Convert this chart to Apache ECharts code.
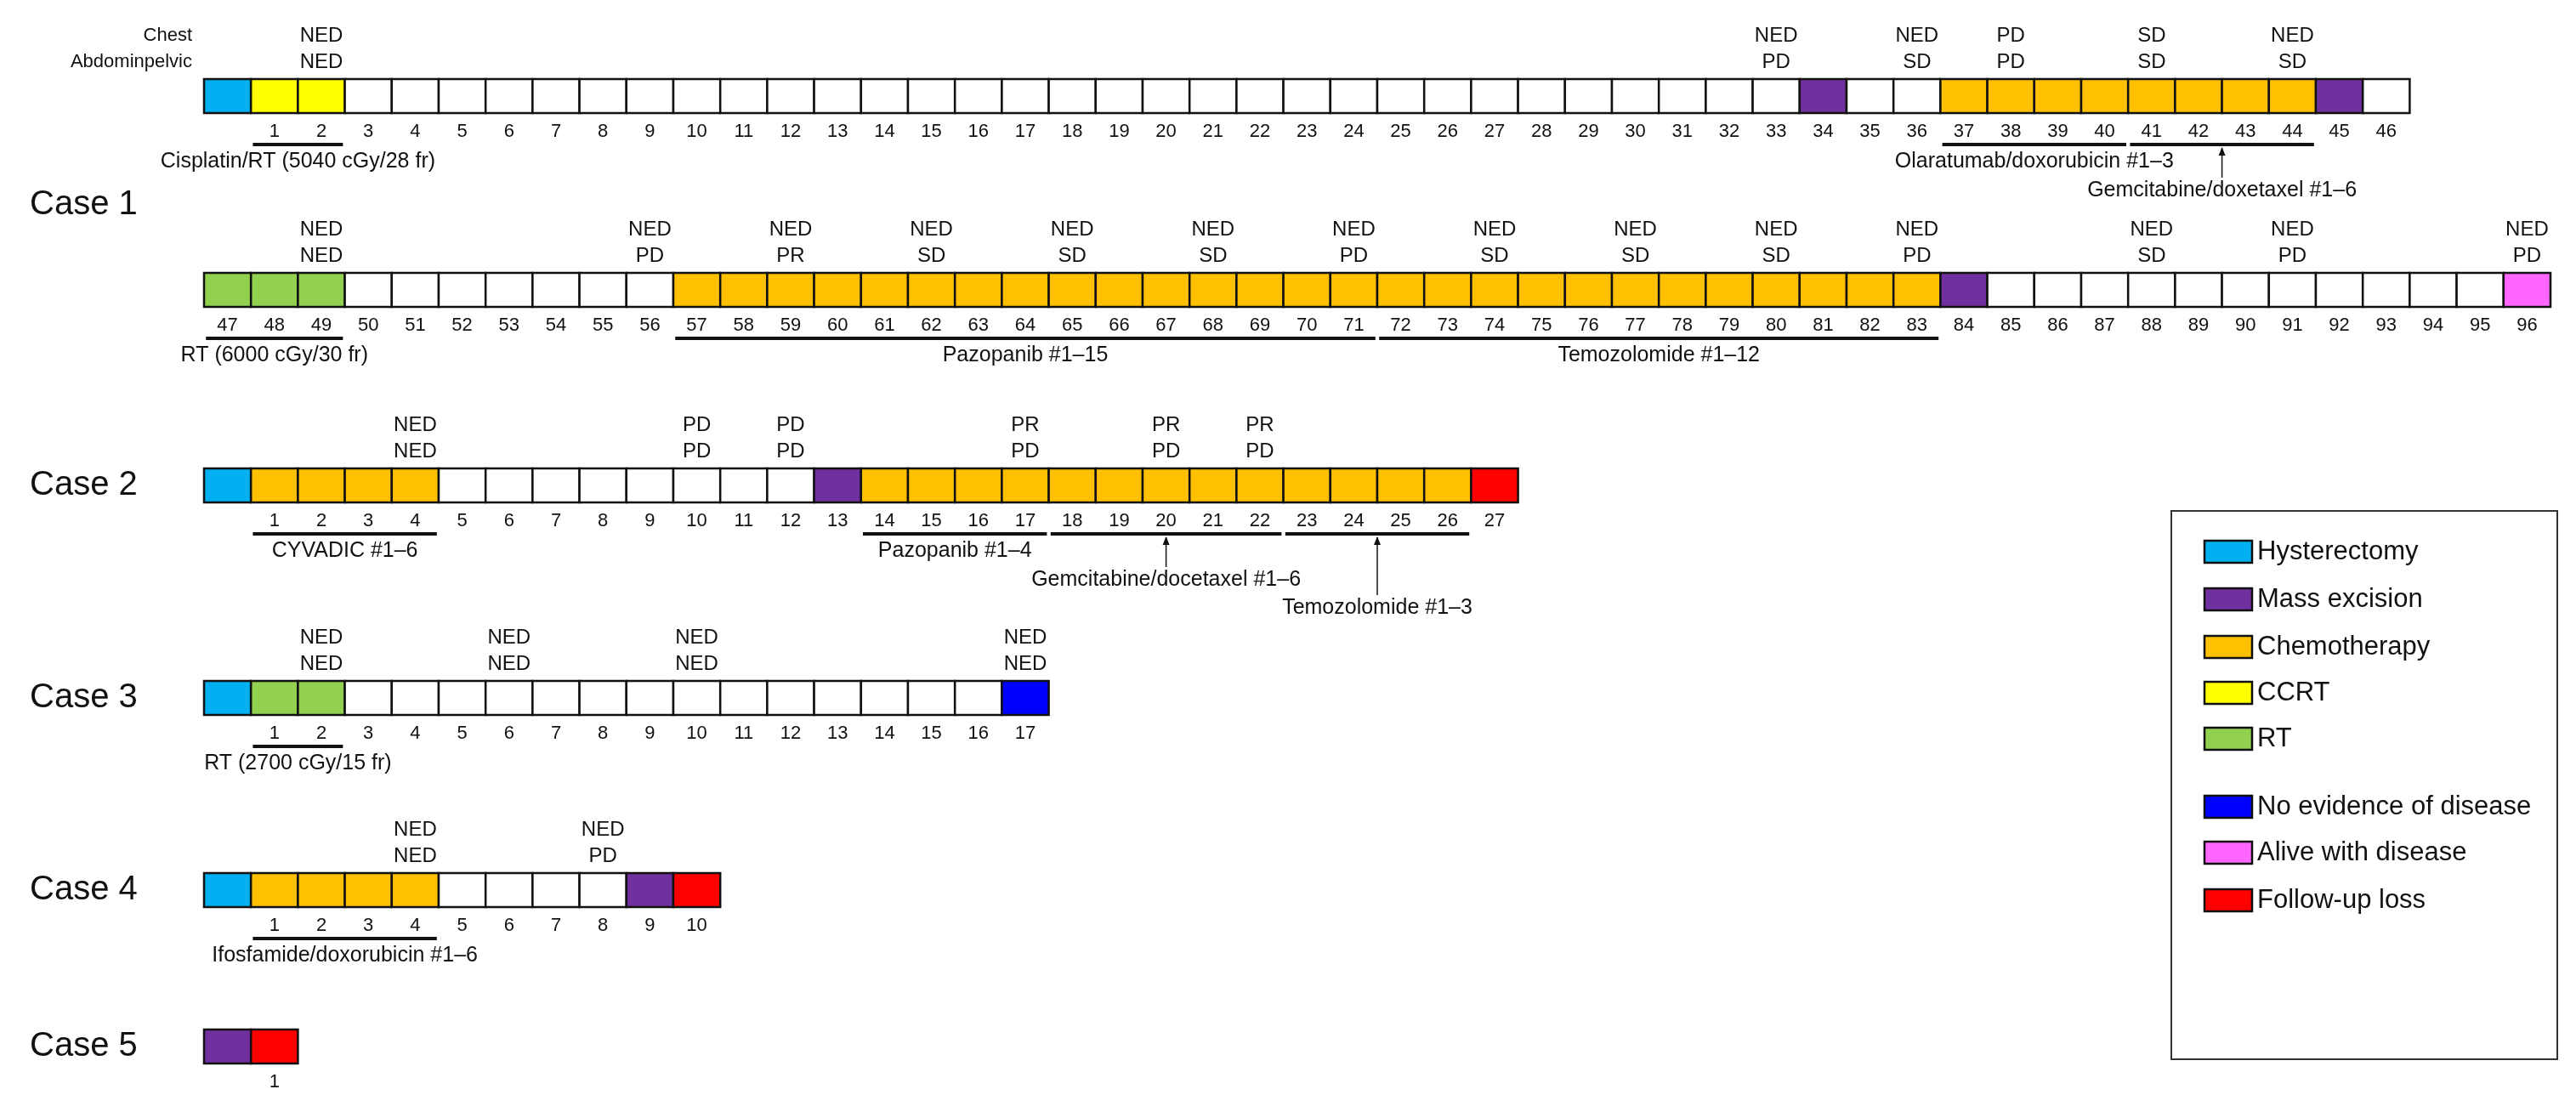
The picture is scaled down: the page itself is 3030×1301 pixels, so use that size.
<!DOCTYPE html>
<html>
<head>
<meta charset="utf-8">
<script src="https://cdn.jsdelivr.net/npm/echarts@6/dist/echarts.min.js"></script>
<style>html,body{margin:0;padding:0;background:#fff}#main{width:3030px;height:1301px}</style>
</head>
<body>
<div id="main"></div>
<script>
// cell types per track: H hysterectomy, M mass excision, X chemo, C CCRT, R RT, N NED, A AWD, F FU loss, . none
var trackCells = [
  'HCC' + '.'.repeat(31) + 'M..' + 'XXXXXXXX' + 'M.',
  'RRR' + '.'.repeat(7) + 'X'.repeat(27) + 'M' + '.'.repeat(11) + 'A',
  'HXXXX' + '.'.repeat(8) + 'M' + 'X'.repeat(13) + 'F',
  'HRR' + '.'.repeat(14) + 'N',
  'HXXXX....MF',
  'MF'
];
var cycleStart = [0, 47, 0, 0, 0, 0];
var skipFirst = [true, false, true, true, true, true];
var caseNames = ['Case 1', 'Case 2', 'Case 3', 'Case 4', 'Case 5'];
var caseTrack = [0.5, 2, 3, 4, 5];

// response labels: [track, col, chest, abdominopelvic]
var responses = [
  [0,2,'NED','NED'],[0,33,'NED','PD'],[0,36,'NED','SD'],[0,38,'PD','PD'],[0,41,'SD','SD'],[0,44,'NED','SD'],
  [1,2,'NED','NED'],[1,9,'NED','PD'],[1,12,'NED','PR'],[1,15,'NED','SD'],[1,18,'NED','SD'],[1,21,'NED','SD'],
  [1,24,'NED','PD'],[1,27,'NED','SD'],[1,30,'NED','SD'],[1,33,'NED','SD'],[1,36,'NED','PD'],[1,41,'NED','SD'],
  [1,44,'NED','PD'],[1,49,'NED','PD'],
  [2,4,'NED','NED'],[2,10,'PD','PD'],[2,12,'PD','PD'],[2,17,'PR','PD'],[2,20,'PR','PD'],[2,22,'PR','PD'],
  [3,2,'NED','NED'],[3,6,'NED','NED'],[3,10,'NED','NED'],[3,17,'NED','NED'],
  [4,4,'NED','NED'],[4,8,'NED','PD']
];

// treatments: [track, firstCol, lastCol, text, arrowLevel (0 = text under bar)]
var treatments = [
  [0,1,2,'Cisplatin/RT (5040 cGy/28 fr)',0],
  [0,37,40,'Olaratumab/doxorubicin #1\u20133',0],
  [0,41,44,'Gemcitabine/doxetaxel #1\u20136',1],
  [1,0,2,'RT (6000 cGy/30 fr)',0],
  [1,10,24,'Pazopanib #1\u201315',0],
  [1,25,36,'Temozolomide #1\u201312',0],
  [2,1,4,'CYVADIC #1\u20136',0],
  [2,14,17,'Pazopanib #1\u20134',0],
  [2,18,22,'Gemcitabine/docetaxel #1\u20136',1],
  [2,23,26,'Temozolomide #1\u20133',2],
  [3,1,2,'RT (2700 cGy/15 fr)',0],
  [4,1,4,'Ifosfamide/doxorubicin #1\u20136',0]
];

var legendKeys = ['H','M','X','C','R','N','A','F'];
var legendNames = ['Hysterectomy','Mass excision','Chemotherapy','CCRT','RT','No evidence of disease','Alive with disease','Follow-up loss'];
var colors = {H:'#00B0F0',M:'#7030A0',X:'#FFC000',C:'#FFFF00',R:'#92D050',N:'#0000FF',A:'#FF66FF',F:'#FF0000','.':'#ffffff'};

// layout
var rowY = [113, 341, 571, 821, 1047, 1231];
var boxH = 40;
var narrow = '"Liberation Sans Narrow","Liberation Sans",Arial,sans-serif';
var wide = '"Liberation Sans",Arial,sans-serif';

var cellData = [], numData = [];
trackCells.forEach(function (s, t) {
  for (var c = 0; c < s.length; c++) {
    cellData.push([c, t, s[c]]);
    if (!(skipFirst[t] && c === 0)) {
      numData.push([c, t, String(cycleStart[t] + c)]);
    }
  }
});

var chart = echarts.init(document.getElementById('main'));
var legendGraphics = [{
  type: 'rect', shape: {x: 2554, y: 601, width: 454, height: 645},
  style: {fill: '#fff', stroke: '#333', lineWidth: 2}
}];
var legY = [649, 705, 761, 815, 869, 949, 1003, 1059];
legendKeys.forEach(function (k, i) {
  legendGraphics.push({type: 'rect', shape: {x: 2593, y: legY[i] - 13, width: 56, height: 26},
    style: {fill: colors[k], stroke: '#111', lineWidth: 2.5}});
  legendGraphics.push({type: 'text', x: 2655, y: legY[i],
    style: {text: legendNames[i], font: '31px ' + wide, fill: '#111', verticalAlign: 'middle'}});
});
legendGraphics.push({type: 'text', x: 226, y: 42, style: {text: 'Chest', font: '22px ' + narrow, fill: '#111', align: 'right', verticalAlign: 'middle'}});
legendGraphics.push({type: 'text', x: 226, y: 73, style: {text: 'Abdominpelvic', font: '22px ' + narrow, fill: '#111', align: 'right', verticalAlign: 'middle'}});

chart.setOption({
  animation: false,
  grid: {left: 0, right: 0, top: 0, bottom: 0},
  xAxis: {type: 'value', min: -240 / 55.2, max: (3030 - 240) / 55.2, show: false},
  yAxis: {type: 'value', min: 0, max: 1301, inverse: true, show: false},
  graphic: legendGraphics,
  series: [
    {
      type: 'custom', data: cellData,
      renderItem: function (params, api) {
        var c = api.value(0), t = api.value(1), k = cellData[params.dataIndex][2];
        var p = api.coord([c, rowY[t]]);
        var w = api.size([1, 0])[0];
        return {type: 'rect', shape: {x: p[0], y: p[1] - boxH / 2, width: w, height: boxH},
          style: {fill: colors[k], stroke: '#111', lineWidth: 2.5}};
      }
    },
    {
      type: 'custom', data: numData,
      renderItem: function (params, api) {
        var c = api.value(0), t = api.value(1);
        var p = api.coord([c + 0.5, rowY[t] + 42]);
        return {type: 'text', x: p[0], y: p[1],
          style: {text: numData[params.dataIndex][2], font: '22px ' + narrow, fill: '#111', align: 'center', verticalAlign: 'middle'}};
      }
    },
    {
      type: 'custom', data: responses.map(function (r) { return [r[1], r[0]]; }),
      renderItem: function (params, api) {
        var r = responses[params.dataIndex];
        var p1 = api.coord([r[1] + 0.5, rowY[r[0]] - 71]);
        var p2 = api.coord([r[1] + 0.5, rowY[r[0]] - 40]);
        var st = {font: '24px ' + narrow, fill: '#111', align: 'center', verticalAlign: 'middle'};
        return {type: 'group', children: [
          {type: 'text', x: p1[0], y: p1[1], style: Object.assign({text: r[2]}, st)},
          {type: 'text', x: p2[0], y: p2[1], style: Object.assign({text: r[3]}, st)}
        ]};
      }
    },
    {
      type: 'custom', data: treatments.map(function (r) { return [r[1], r[0]]; }),
      renderItem: function (params, api) {
        var r = treatments[params.dataIndex];
        var y0 = rowY[r[0]];
        var a = api.coord([r[1] + 0.04, y0 + 57]);
        var b = api.coord([r[2] + 0.96, y0 + 57]);
        var mid = (r[1] + r[2] + 1) / 2;
        var st = {font: '25px ' + narrow, fill: '#111', align: 'center', verticalAlign: 'middle'};
        var kids = [{type: 'line', shape: {x1: a[0], y1: a[1], x2: b[0], y2: b[1]}, style: {stroke: '#111', lineWidth: 4}}];
        if (r[4] === 0) {
          var tp = api.coord([mid, y0 + 77]);
          kids.push({type: 'text', x: tp[0], y: tp[1], style: Object.assign({text: r[3]}, st)});
        } else {
          var ty = y0 + (r[4] === 1 ? 111 : 144);
          var tp2 = api.coord([mid, ty]);
          kids.push({type: 'line', shape: {x1: tp2[0], y1: tp2[1] - 15, x2: tp2[0], y2: a[1] + 4}, style: {stroke: '#111', lineWidth: 1.5}});
          kids.push({type: 'polygon', shape: {points: [[tp2[0], a[1] + 3], [tp2[0] - 4, a[1] + 13], [tp2[0] + 4, a[1] + 13]]}, style: {fill: '#111'}});
          kids.push({type: 'text', x: tp2[0], y: tp2[1], style: Object.assign({text: r[3]}, st)});
        }
        return {type: 'group', children: kids};
      }
    },
    {
      type: 'custom', data: caseNames.map(function (n, i) { return [0, i]; }),
      renderItem: function (params, api) {
        var i = params.dataIndex, t = caseTrack[i];
        var y = t === 0.5 ? 241 : rowY[t];
        var p = api.coord([0, y]);
        return {type: 'text', x: 35, y: p[1],
          style: {text: caseNames[i], font: '40px ' + wide, fill: '#111', verticalAlign: 'middle'}};
      }
    }
  ]
});
</script>
</body>
</html>
